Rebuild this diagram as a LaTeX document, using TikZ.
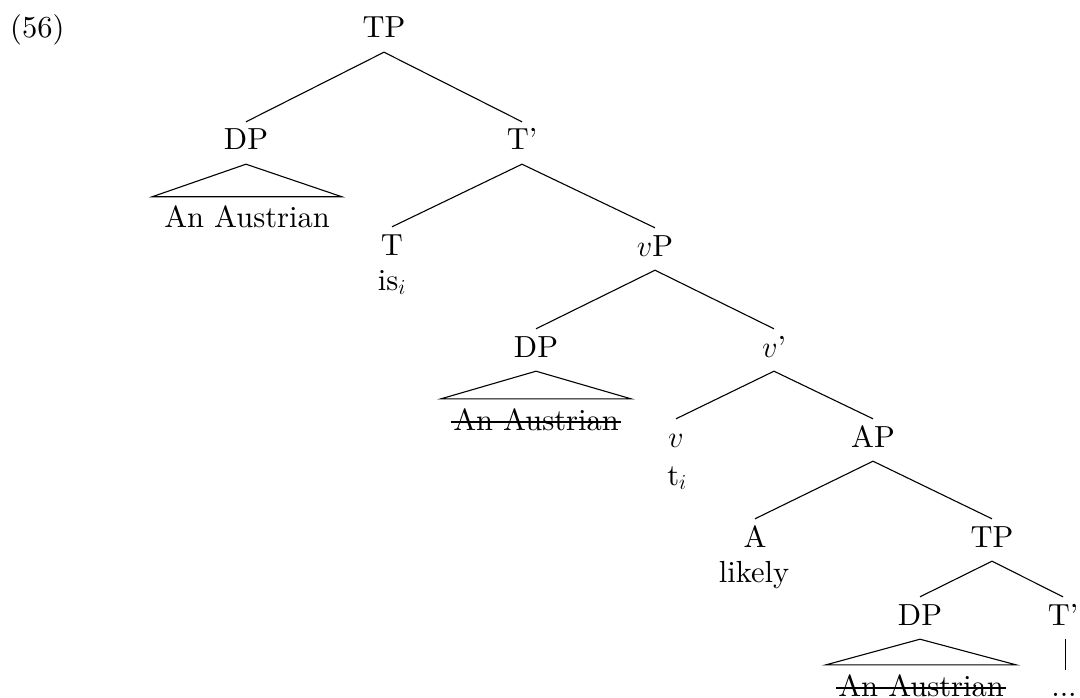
\documentclass[tikz,border=0pt]{standalone}
\usepackage{fix-cm}
\usepackage{fontspec}
\setmainfont{lmroman10-regular.otf}[ItalicFont=lmroman10-italic.otf,BoldFont=lmroman10-bold.otf]
\newcommand\treefont{\fontsize{30.5}{36}\selectfont}
\tikzset{
  lab/.style={anchor=base, inner xsep=1pt, inner ysep=9pt, text height=19pt, text depth=5pt, font=\treefont},
  roof/.style={anchor=base, inner xsep=12pt, inner ysep=12pt, text height=19pt, text depth=5pt, font=\treefont},
  branch/.style={line width=1.1pt},
  strike/.style={line width=1.1pt},
}
\begin{document}
\begin{tikzpicture}[x=1pt,y=-1pt]
\useasboundingbox (0,0) rectangle (1080,698);
% labels
\node[lab, anchor=base west, inner xsep=0pt] (ex) at (10,38) {(56)};
\node[lab] (tp1) at (384,38) {TP};
\node[lab] (dp1) at (246,150) {DP};
\node[roof] (aa1) at (247,228) {An Austrian};
\node[lab] (tbar1) at (522,150) {T'};
\node[lab] (t1) at (392,255) {T};
\node[lab] (is) at (392,290) {is$_i$};
\node[lab] (vp) at (655,256) {$v$P};
\node[lab] (dp2) at (536,357) {DP};
\node[roof] (aa2) at (536,430) {An Austrian};
\node[lab] (vbar) at (774,357) {$v$'};
\node[lab] (v) at (676,447) {$v$};
\node[lab] (ti) at (677,485) {t$_i$};
\node[lab] (ap) at (873,447) {AP};
\node[lab] (a) at (755,547) {A};
\node[lab] (likely) at (754,582) {likely};
\node[lab] (tp2) at (992,547) {TP};
\node[lab] (dp3) at (920,625) {DP};
\node[roof] (aa3) at (921,696) {An Austrian};
\node[lab] (tbar2) at (1063,625) {T'};
\node[lab] (dots) at (1064,696) {...};
% branches
\draw[branch] (tp1.south) -- (dp1.north);
\draw[branch] (tp1.south) -- (tbar1.north);
\draw[branch] (tbar1.south) -- (t1.north);
\draw[branch] (tbar1.south) -- (vp.north);
\draw[branch] (vp.south) -- (dp2.north);
\draw[branch] (vp.south) -- (vbar.north);
\draw[branch] (vbar.south) -- (v.north);
\draw[branch] (vbar.south) -- (ap.north);
\draw[branch] (ap.south) -- (a.north);
\draw[branch] (ap.south) -- (tp2.north);
\draw[branch] (tp2.south) -- (dp3.north);
\draw[branch] (tp2.south) -- (tbar2.north);
\draw[branch] ([xshift=2.5pt]tbar2.south) -- ([xshift=2.5pt,yshift=-2pt]tbar2.south |- dots.north);
% roofs
\draw[branch] (dp1.south) -- (aa1.north west) -- (aa1.north east) -- cycle;
\draw[branch] (dp2.south) -- (aa2.north west) -- (aa2.north east) -- cycle;
\draw[branch] (dp3.south) -- (aa3.north west) -- (aa3.north east) -- cycle;
% strike-through
\draw[strike] ([xshift=10pt,yshift=8pt]aa2.base west) -- ([xshift=-10pt,yshift=8pt]aa2.base east);
\draw[strike] ([xshift=10pt,yshift=8pt]aa3.base west) -- ([xshift=-10pt,yshift=8pt]aa3.base east);
\end{tikzpicture}
\end{document}
